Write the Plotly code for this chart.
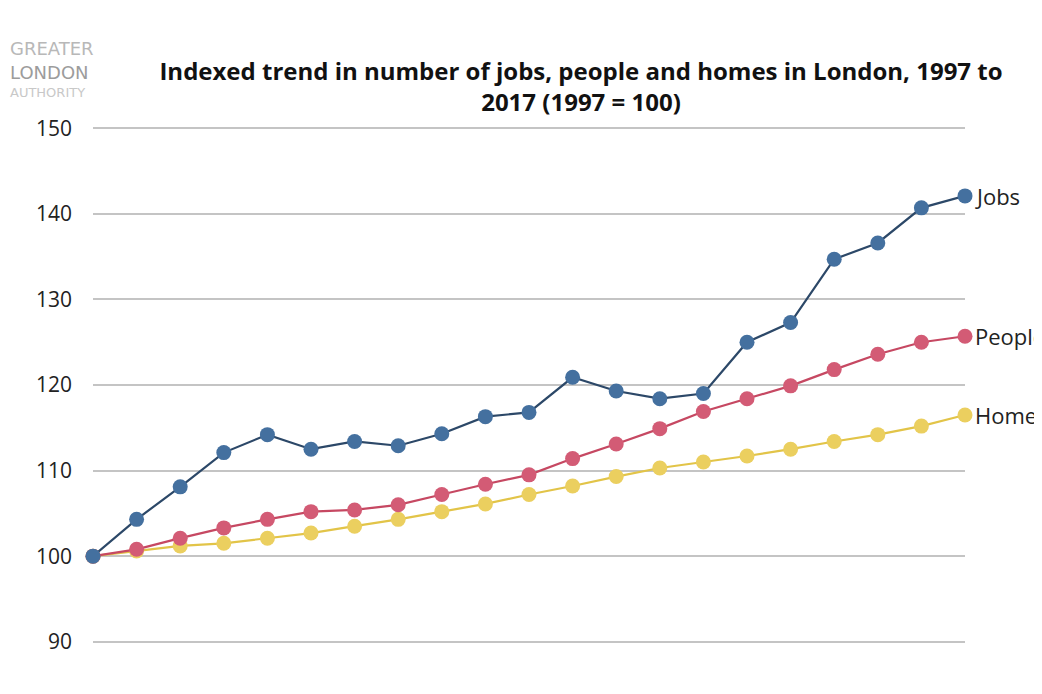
import plotly.graph_objects as go

years = list(range(1997, 2018))

jobs = [100.0, 104.3, 108.1, 112.1, 114.2, 112.5, 113.4, 112.9, 114.3, 116.3, 116.8,
        120.9, 119.3, 118.4, 119.0, 125.0, 127.3, 134.7, 136.6, 140.7, 142.1]
people = [100.0, 100.8, 102.1, 103.3, 104.3, 105.2, 105.4, 106.0, 107.2, 108.4, 109.5,
          111.4, 113.1, 114.9, 116.9, 118.4, 119.9, 121.8, 123.6, 125.0, 125.7]
homes = [100.0, 100.6, 101.2, 101.5, 102.1, 102.7, 103.5, 104.3, 105.2, 106.1, 107.2,
         108.2, 109.3, 110.3, 111.0, 111.7, 112.5, 113.4, 114.2, 115.2, 116.5]

y_ticks = [90, 100, 110, 120, 130, 140, 150]

# name, values, line colour, marker colour
SERIES = [
    ("Homes",  homes,  "#e2c448", "#ebcf5f"),
    ("People", people, "#c64862", "#d35b75"),
    ("Jobs",   jobs,   "#2c4868", "#44709f"),
]

FONT = "Open Sans"
# page body has an 8px margin, so the figure is a bit smaller than the window
W, H = 1034, 686
L, T, PW, PH = 85, 116, 872, 522

fig = go.Figure()
for name, vals, line_c, mark_c in SERIES:
    fig.add_trace(go.Scatter(
        x=years, y=vals, mode="lines+markers", name=name,
        line=dict(color=line_c, width=2.2),
        marker=dict(color=mark_c, size=15),
        cliponaxis=False,
    ))
    fig.add_annotation(
        x=years[-1], y=vals[-1], text=name, showarrow=False,
        xanchor="left", yanchor="middle", xshift=8,
        font=dict(family=FONT, size=22, color="#222"),
    )

# GLA logo text in the top-left corner (figure pixel rows -> paper fraction)
for txt, ypx, size, col in [("GREATER", 41, 18, "#b8b8b8"),
                            ("LONDON", 64, 18, "#9c9c9c"),
                            ("AUTHORITY", 85, 13, "#c8c8c8")]:
    fig.add_annotation(
        xref="paper", yref="paper", x=-L / PW, y=1 - (ypx - T) / PH,
        text=txt, showarrow=False, xanchor="left", yanchor="middle",
        font=dict(family="DejaVu Sans", size=size, color=col),
    )

fig.update_layout(
    width=W, height=H,
    margin=dict(l=L, r=W - L - PW, t=T, b=H - T - PH, autoexpand=False),
    paper_bgcolor="white", plot_bgcolor="white",
    showlegend=False,
    title=dict(
        text="Indexed trend in number of jobs, people and homes in London, 1997 to<br>2017 (1997 = 100)",
        x=573 / W, xref="container", xanchor="center",
        y=1 - 71.5 / H, yref="container", yanchor="middle",
        font=dict(family=FONT, size=24, color="#111", weight="bold"),
    ),
    xaxis=dict(range=[1997, 2017], showgrid=False, showticklabels=False,
               zeroline=False, showline=False),
    yaxis=dict(range=[89.5, 150.5], tickvals=y_ticks, showgrid=True,
               gridcolor="#c4c4c4", gridwidth=1.5, zeroline=False, showline=False,
               ticklabelstandoff=20, automargin=False,
               tickfont=dict(family=FONT, size=21, color="#222")),
)

fig.write_html("out.html")
